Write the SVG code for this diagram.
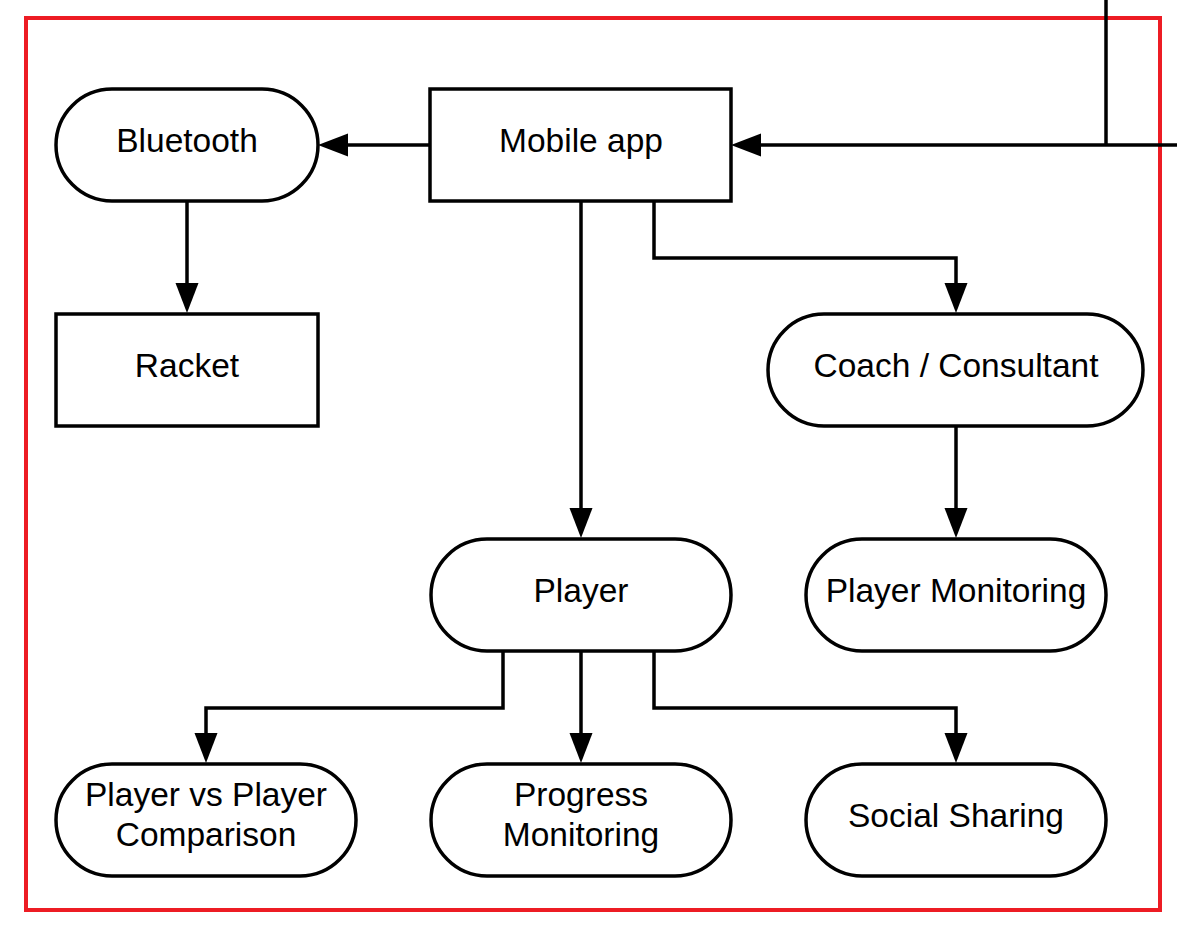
<svg xmlns="http://www.w3.org/2000/svg" width="1177" height="927" viewBox="0 0 1177 927">
<style>
.n{fill:#fff;stroke:#000;stroke-width:3.5}
.t{font-family:"Liberation Sans",Arial,sans-serif;font-size:33.5px;fill:#000;text-anchor:middle}
.c{fill:none;stroke:#000;stroke-width:3.5}
</style>
<defs>
<marker id="a" markerUnits="userSpaceOnUse" markerWidth="31" markerHeight="24" refX="0" refY="11.5" orient="auto" overflow="visible">
<path d="M0,0 L30,11.5 L0,23 z" fill="#000"/>
</marker>
</defs>
<rect width="1177" height="927" fill="#fff"/>
<rect x="26" y="18" width="1134" height="892" fill="none" stroke="#ed1c24" stroke-width="4"/>
<g id="connectors">
<path class="c" d="M1106,0 V145"/>
<path class="c" d="M1177,145 H761" marker-end="url(#a)"/>
<path class="c" d="M430,145 H348" marker-end="url(#a)"/>
<path class="c" d="M187,201 V283" marker-end="url(#a)"/>
<path class="c" d="M581,201 V508" marker-end="url(#a)"/>
<path class="c" d="M654,201 V258 H956 V283" marker-end="url(#a)"/>
<path class="c" d="M956,426 V508" marker-end="url(#a)"/>
<path class="c" d="M503,651 V708 H206 V733" marker-end="url(#a)"/>
<path class="c" d="M581,651 V733" marker-end="url(#a)"/>
<path class="c" d="M654,651 V708 H956 V733" marker-end="url(#a)"/>
</g>
<g id="bluetooth"><rect class="n" x="56" y="89" width="262" height="112" rx="56"/><text class="t" x="187" y="152">Bluetooth</text></g>
<g id="mobile-app"><rect class="n" x="430" y="89" width="301" height="112"/><text class="t" x="581" y="152">Mobile app</text></g>
<g id="racket"><rect class="n" x="56" y="314" width="262" height="112"/><text class="t" x="187" y="377">Racket</text></g>
<g id="coach"><rect class="n" x="768" y="314" width="375" height="112" rx="56"/><text class="t" x="956" y="377">Coach / Consultant</text></g>
<g id="player"><rect class="n" x="431" y="539" width="300" height="112" rx="56"/><text class="t" x="581" y="602">Player</text></g>
<g id="player-monitoring"><rect class="n" x="806" y="539" width="300" height="112" rx="56"/><text class="t" x="956" y="602">Player Monitoring</text></g>
<g id="pvp"><rect class="n" x="56" y="764" width="300" height="112" rx="56"/><text class="t" x="206" y="806">Player vs Player</text><text class="t" x="206" y="846">Comparison</text></g>
<g id="progress"><rect class="n" x="431" y="764" width="300" height="112" rx="56"/><text class="t" x="581" y="806">Progress</text><text class="t" x="581" y="846">Monitoring</text></g>
<g id="social"><rect class="n" x="806" y="764" width="300" height="112" rx="56"/><text class="t" x="956" y="827">Social Sharing</text></g>
</svg>
